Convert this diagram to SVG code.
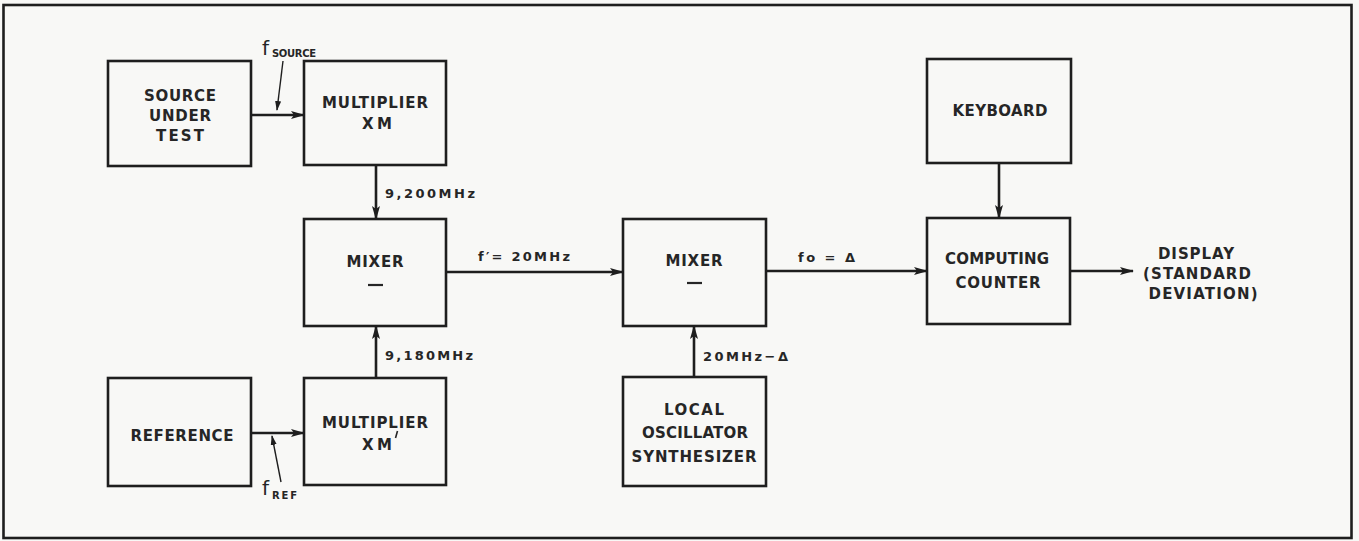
<svg xmlns="http://www.w3.org/2000/svg" width="1359" height="541" viewBox="0 0 1359 541">
<defs>
<marker id="ah" markerWidth="14" markerHeight="10" refX="13" refY="5" orient="auto" markerUnits="userSpaceOnUse">
<path d="M0,1 L14,5 L0,9 L3,5 Z" fill="#1e1e1e"/>
</marker>
<marker id="sm" markerWidth="10" markerHeight="8" refX="9" refY="4" orient="auto" markerUnits="userSpaceOnUse">
<path d="M0,1 L10,4 L0,7 Z" fill="#1e1e1e"/>
</marker>
</defs>
<style>
.box{fill:none;stroke:#1e1e1e;stroke-width:2.6}
.ln{fill:none;stroke:#1e1e1e;stroke-width:2.6}
.ld{fill:none;stroke:#1e1e1e;stroke-width:1.4}
.t{font-family:"DejaVu Sans",sans-serif;font-size:15px;fill:#262626;text-anchor:middle;font-weight:bold}
.s{font-family:"DejaVu Sans",sans-serif;font-size:13px;fill:#262626;font-weight:bold}
.f{font-family:"DejaVu Sans",sans-serif;font-size:20px;fill:#262626}
.sub{font-family:"DejaVu Sans",sans-serif;font-size:10px;fill:#262626;font-weight:bold}
</style>
<rect x="0" y="0" width="1359" height="541" fill="#f8f8f6"/>
<rect x="3.5" y="5" width="1348" height="533" fill="none" stroke="#1e1e1e" stroke-width="2.6"/>

<g id="source">
<rect class="box" x="108" y="61" width="143" height="105"/>
<text class="t" x="180" y="101" textLength="72" lengthAdjust="spacing">SOURCE</text>
<text class="t" x="180" y="121" textLength="62" lengthAdjust="spacing">UNDER</text>
<text class="t" x="180" y="141" textLength="48" lengthAdjust="spacing">TEST</text>
</g>
<g id="mult1">
<rect class="box" x="304" y="61" width="142" height="104"/>
<text class="t" x="375" y="108" textLength="106" lengthAdjust="spacing">MULTIPLIER</text>
<text class="t" x="377" y="129" textLength="30" lengthAdjust="spacing">X M</text>
</g>
<g id="reference">
<rect class="box" x="108" y="378" width="143" height="108"/>
<text class="t" x="182" y="441" textLength="103" lengthAdjust="spacing">REFERENCE</text>
</g>
<g id="mult2">
<rect class="box" x="304" y="378" width="142" height="107"/>
<text class="t" x="375" y="428" textLength="106" lengthAdjust="spacing">MULTIPLIER</text>
<text class="t" x="377" y="450" textLength="30" lengthAdjust="spacing">X M</text>
<line x1="397.5" y1="431" x2="395.5" y2="438" stroke="#262626" stroke-width="1.6"/>
</g>
<g id="mixer1">
<rect class="box" x="304" y="219" width="142" height="107"/>
<text class="t" x="375" y="267" textLength="57" lengthAdjust="spacing">MIXER</text>
<line x1="368" y1="285" x2="383" y2="285" stroke="#262626" stroke-width="2.2"/>
</g>
<g id="mixer2">
<rect class="box" x="623" y="219" width="143" height="107"/>
<text class="t" x="694" y="266" textLength="57" lengthAdjust="spacing">MIXER</text>
<line x1="687" y1="283" x2="702" y2="283" stroke="#262626" stroke-width="2.2"/>
</g>
<g id="lo">
<rect class="box" x="623" y="377" width="143" height="109"/>
<text class="t" x="694" y="415" textLength="60" lengthAdjust="spacing">LOCAL</text>
<text class="t" x="695" y="438" textLength="106" lengthAdjust="spacing">OSCILLATOR</text>
<text class="t" x="694" y="462" textLength="125" lengthAdjust="spacing">SYNTHESIZER</text>
</g>
<g id="keyboard">
<rect class="box" x="927" y="59" width="144" height="104"/>
<text class="t" x="1000" y="116" textLength="95" lengthAdjust="spacing">KEYBOARD</text>
</g>
<g id="counter">
<rect class="box" x="927" y="218" width="143" height="106"/>
<text class="t" x="997" y="264" textLength="104" lengthAdjust="spacing">COMPUTING</text>
<text class="t" x="998" y="288" textLength="85" lengthAdjust="spacing">COUNTER</text>
</g>
<g id="display">
<text class="t" x="1196" y="259" textLength="76" lengthAdjust="spacing">DISPLAY</text>
<text class="t" x="1197" y="279" textLength="108" lengthAdjust="spacing">(STANDARD</text>
<text class="t" x="1203" y="299" textLength="109" lengthAdjust="spacing">DEVIATION)</text>
</g>

<g id="connectors">
<line class="ln" x1="251" y1="115" x2="304" y2="115" marker-end="url(#ah)"/>
<line class="ld" x1="283" y1="61" x2="277" y2="110" marker-end="url(#sm)"/>
<line class="ln" x1="251" y1="433" x2="304" y2="433" marker-end="url(#ah)"/>
<line class="ld" x1="281" y1="482" x2="272" y2="436" marker-end="url(#sm)"/>
<line class="ln" x1="376" y1="165" x2="376" y2="219" marker-end="url(#ah)"/>
<line class="ln" x1="376" y1="378" x2="376" y2="326" marker-end="url(#ah)"/>
<line class="ln" x1="446" y1="272" x2="623" y2="272" marker-end="url(#ah)"/>
<line class="ln" x1="694" y1="377" x2="694" y2="326" marker-end="url(#ah)"/>
<line class="ln" x1="766" y1="271" x2="927" y2="271" marker-end="url(#ah)"/>
<line class="ln" x1="999" y1="163" x2="999" y2="218" marker-end="url(#ah)"/>
<line class="ln" x1="1070" y1="271" x2="1133" y2="271" marker-end="url(#ah)"/>

<text class="f" x="262" y="55">f</text>
<text class="sub" x="272" y="57" textLength="44" lengthAdjust="spacing">SOURCE</text>
<text class="f" x="262" y="495">f</text>
<text class="sub" x="272" y="499" textLength="25" lengthAdjust="spacing">REF</text>
<text class="s" x="385" y="198" textLength="90" lengthAdjust="spacing">9,200MHz</text>
<text class="s" x="385" y="360" textLength="88" lengthAdjust="spacing">9,180MHz</text>
<text class="s" x="478" y="261" textLength="92" lengthAdjust="spacing">f′= 20MHz</text>
<text class="s" x="703" y="361" textLength="85" lengthAdjust="spacing">20MHz−Δ</text>
<text class="s" x="798" y="262" textLength="57" lengthAdjust="spacing">fo = Δ</text>
</g>
</svg>
